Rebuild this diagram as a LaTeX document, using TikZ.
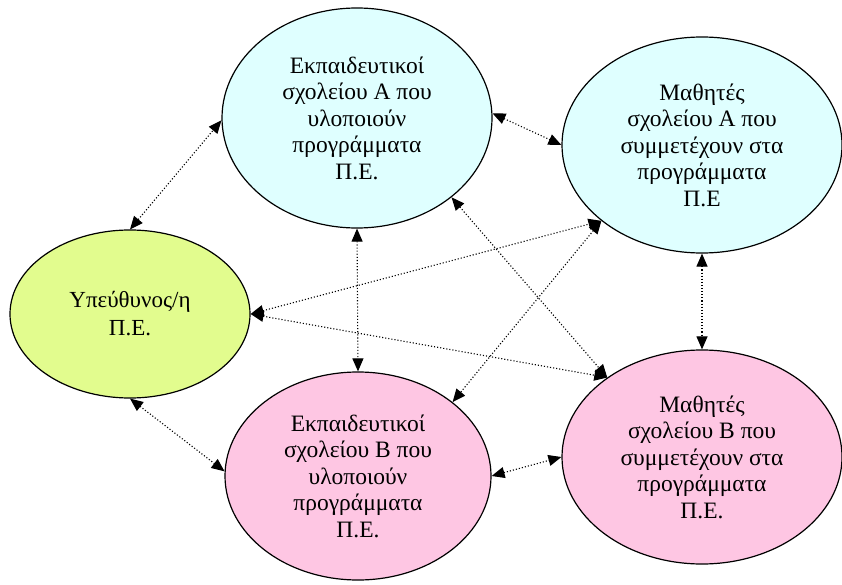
\documentclass[tikz,border=0pt]{standalone}
\usepackage{fontspec}
\setmainfont{Liberation Serif}
\usetikzlibrary{shapes.geometric,arrows.meta}
\definecolor{cyanfill}{HTML}{DFFFFF}
\definecolor{limefill}{HTML}{E2FC8E}
\definecolor{pinkfill}{HTML}{FEC6E3}
\begin{document}
\begin{tikzpicture}[x=1pt,y=-1pt,
  bubble/.style={ellipse,draw=black,line width=1.2pt,inner sep=0pt,align=center,
    font=\fontsize{23.5}{26.5}\selectfont},
  link/.style={dotted,line width=1.1pt,{Triangle[length=13pt,width=11pt]}-{Triangle[length=13pt,width=11pt]}}]
\useasboundingbox (0,0) rectangle (842,585);
\node[bubble,fill=limefill,minimum width=240pt,minimum height=168pt,font=\fontsize{23}{28}\selectfont] (yp) at (130,314) {Υπεύθυνος/η\\Π.Ε.};
\node[bubble,fill=cyanfill,minimum width=270pt,minimum height=220pt] (eka) at (357,118) {Εκπαιδευτικοί\\σχολείου Α που\\υλοποιούν\\προγράμματα\\Π.Ε.};
\node[bubble,fill=cyanfill,minimum width=280pt,minimum height=216pt] (maa) at (702,145) {Μαθητές\\σχολείου Α που\\συμμετέχουν στα\\προγράμματα\\Π.Ε};
\node[bubble,fill=pinkfill,minimum width=266pt,minimum height=208pt] (ekb) at (358,476) {Εκπαιδευτικοί\\σχολείου Β που\\υλοποιούν\\προγράμματα\\Π.Ε.};
\node[bubble,fill=pinkfill,minimum width=280pt,minimum height=214pt] (mab) at (702,457) {Μαθητές\\σχολείου Β που\\συμμετέχουν στα\\προγράμματα\\Π.Ε.};
\draw[link] (yp.north) -- (eka.181);
\draw[link] (yp.south) -- (ekb.178);
\draw[link] (eka.2) -- (maa.west);
\draw[link] (eka.south) -- (ekb.north);
\draw[link] (maa.south) -- (mab.north);
\draw[link] (ekb.east) -- (mab.west);
\draw[link] (yp.east) -- (maa.217);
\draw[link] (yp.east) -- (mab.140);
\draw[link] (eka.-40) -- (mab.140);
\draw[link] (maa.217) -- (ekb.38);
\end{tikzpicture}
\end{document}
